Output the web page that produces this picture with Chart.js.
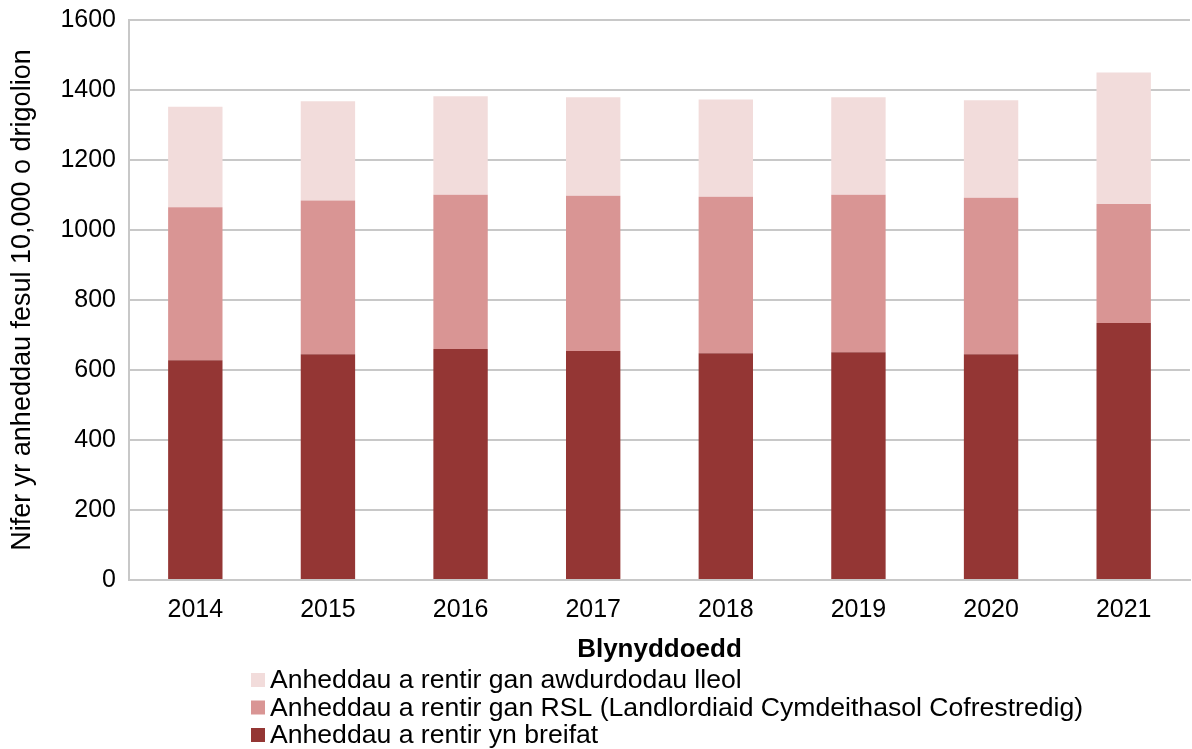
<!DOCTYPE html>
<html>
<head>
<meta charset="utf-8">
<script src="https://cdn.jsdelivr.net/npm/chart.js@4"></script>
<style>
html,body{margin:0;padding:0;background:#fff;}
#wrap{width:1192px;height:749px;position:relative;}
</style>
</head>
<body>
<div id="wrap"><canvas id="c" width="1192" height="749"></canvas></div>
<script>
const years = ['2014','2015','2016','2017','2018','2019','2020','2021'];
const privateRented = [628, 645, 660, 654, 648, 651, 645, 734];
const rslRented = [437, 439, 441, 444, 447, 450, 447, 340];
const laRented = [287, 284, 281, 281, 278, 278, 279, 376];
const yTicks = [0, 200, 400, 600, 800, 1000, 1200, 1400, 1600];
const seriesLabels = [
  'Anheddau a rentir yn breifat',
  'Anheddau a rentir gan RSL (Landlordiaid Cymdeithasol Cofrestredig)',
  'Anheddau a rentir gan awdurdodau lleol'
];
const xTitle = 'Blynyddoedd';
const yTitle = 'Nifer yr anheddau fesul 10,000 o drigolion';

const FONT = "'Liberation Sans', Arial, sans-serif";

const legendPlugin = {
  id: 'colLegend',
  afterDraw(chart) {
    const ctx = chart.ctx;
    const ds = chart.data.datasets.slice().reverse();
    ctx.save();
    ctx.font = '26.6px ' + FONT;
    ctx.textBaseline = 'middle';
    ctx.textAlign = 'left';
    ds.forEach((d, i) => {
      const cy = 680 + i * 27.5;
      ctx.fillStyle = d.backgroundColor;
      ctx.fillRect(251, cy - 7, 14, 14);
      ctx.fillStyle = '#000';
      ctx.fillText(d.label, 270, cy + 1);
    });
    ctx.restore();
  }
};

new Chart(document.getElementById('c'), {
  type: 'bar',
  data: {
    labels: years,
    datasets: [
      { label: seriesLabels[0], data: privateRented, backgroundColor: '#943634' },
      { label: seriesLabels[1], data: rslRented, backgroundColor: '#D99594' },
      { label: seriesLabels[2], data: laRented, backgroundColor: '#F2DCDB' }
    ]
  },
  options: {
    responsive: false,
    animation: false,
    events: [],
    layout: { padding: { top: 20, right: 2, bottom: 80, left: 0 } },
    datasets: { bar: { categoryPercentage: 1, barPercentage: 0.41 } },
    plugins: { legend: { display: false }, tooltip: { enabled: false } },
    scales: {
      x: {
        stacked: true,
        grid: { display: false, drawTicks: false },
        border: { color: '#c8c8c8', width: 2 },
        ticks: { color: '#000', font: { family: FONT, size: 25 }, padding: 15 },
        title: { display: true, text: xTitle, color: '#000', font: { family: FONT, size: 26, weight: 'bold' }, padding: { top: 4, bottom: 4 } },
        afterFit(s) { s.height = 89; s.paddingLeft = 0; s.paddingRight = 0; }
      },
      y: {
        stacked: true,
        min: 0, max: 1600,
        afterBuildTicks(s) { s.ticks = yTicks.map(v => ({ value: v })); },
        grid: { color: '#c8c8c8', lineWidth: 2, drawTicks: false },
        border: { color: '#c8c8c8', width: 2 },
        ticks: { color: '#000', font: { family: FONT, size: 25 }, padding: 13, callback: v => String(v) },
        title: { display: true, text: yTitle, color: '#000', font: { family: FONT, size: 27 }, padding: { top: 6, bottom: 4 } },
        afterFit(s) { s.width = 129; s.paddingTop = 0; s.paddingBottom = 0; }
      }
    }
  },
  plugins: [legendPlugin]
});
</script>
</body>
</html>
